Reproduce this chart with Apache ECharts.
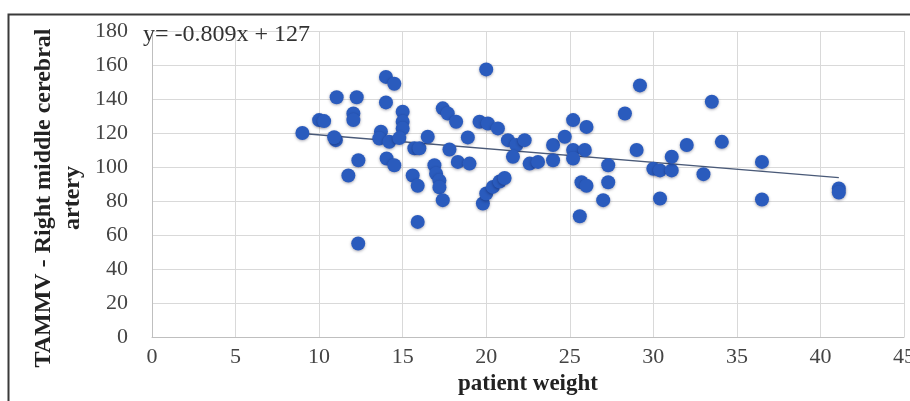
<!DOCTYPE html>
<html>
<head>
<meta charset="utf-8">
<script src="https://cdn.jsdelivr.net/npm/echarts@6/dist/echarts.min.js"></script>
<style>
html,body{margin:0;padding:0;background:#fff;}
#chart{width:910px;height:401px;}
</style>
</head>
<body>
<div id="chart"></div>
<script>
// patient weight (x) and TAMMV right middle cerebral artery (y)
var weightX = [9, 10, 10.3, 11, 10.9, 11.05, 11.75, 12.05, 12.05, 12.25, 12.35, 12.34,
  13.7, 13.6, 14.2, 14.0, 14.5, 14.0, 14.04, 14.5, 15.0, 15.0, 15.0, 14.8,
  15.6, 15.7, 16.0, 15.9, 15.9, 16.5, 16.9, 17.0, 17.2, 17.2, 17.4, 17.4, 17.7,
  17.8, 18.2, 18.3, 19.0, 18.9, 19.6, 20.1, 20.7, 20.0, 19.8, 20.0, 20.4, 20.8, 21.1,
  21.3, 21.8, 22.3, 21.6, 22.6, 23.1, 24.0, 24.0, 24.7, 25.2, 26.0, 25.2, 25.9, 25.2,
  25.6, 25.7, 26.0, 27.3, 27.3, 27.0, 28.3, 29.2, 29.0, 30.0, 30.4, 31.1, 31.1, 30.4,
  32.0, 33.0, 33.5, 34.1, 36.5, 36.5, 41.1, 41.1];
var tammvY = [120, 127.6, 127, 115.8, 117.5, 141, 95, 131.5, 127.6, 141, 104, 55,
  120.7, 116.8, 114.8, 153, 149, 138, 105, 101, 132.5, 126.6, 122.6, 117,
  95, 111, 111, 89, 67.7, 117.8, 101, 96, 92, 88, 80.5, 134.5, 131.5,
  110.3, 126.6, 103, 102, 117.4, 126.6, 125.6, 122.7, 157.4, 78.5, 84.4, 88.3, 91.5, 93.5,
  115.8, 112.9, 115.8, 106, 102, 103, 104, 112.9, 117.8, 127.6, 123.6, 110, 110, 105,
  71, 91, 89, 101, 91, 80.5, 131.5, 148, 110, 99, 98, 98, 106, 81.5,
  112.9, 95.8, 138.4, 114.8, 103, 80.9, 87.4, 85];
// trend line end points as drawn
var trendX = [9, 41.1];
var trendY = [119.7, 93.7];
var xTicks = [0, 5, 10, 15, 20, 25, 30, 35, 40, 45];
var yTicks = [0, 20, 40, 60, 80, 100, 120, 140, 160, 180];
var equationText = 'y= -0.809x + 127';
var xTitle = 'patient weight';
var yTitleLine1 = 'TAMMV - Right middle cerebral';
var yTitleLine2 = 'artery';

var pts = weightX.map(function (x, i) { return [x, tammvY[i]]; });
var trend = trendX.map(function (x, i) { return [x, trendY[i]]; });
var serif = '"Liberation Serif", "DejaVu Serif", serif';

var chart = echarts.init(document.getElementById('chart'));
chart.setOption({
  backgroundColor: '#fff',
  animation: false,
  grid: { left: 152, right: 6, top: 31, bottom: 64, containLabel: false, outerBoundsMode: 'none' },
  xAxis: {
    type: 'value', min: xTicks[0], max: xTicks[xTicks.length - 1], interval: 5,
    name: xTitle, nameLocation: 'middle', nameGap: 36,
    nameTextStyle: { fontFamily: serif, fontWeight: 'bold', fontSize: 23, color: '#222' },
    axisLine: { show: true, lineStyle: { color: '#bfbfbf', width: 1 } },
    axisTick: { show: false },
    axisLabel: { fontFamily: serif, fontSize: 22, color: '#444', margin: 9, hideOverlap: false },
    splitLine: { show: true, lineStyle: { color: '#d9d9d9', width: 1 } }
  },
  yAxis: {
    type: 'value', min: yTicks[0], max: yTicks[yTicks.length - 1], interval: 20,
    axisLine: { show: true, lineStyle: { color: '#bfbfbf', width: 1 } },
    axisTick: { show: false },
    axisLabel: { fontFamily: serif, fontSize: 22, color: '#444', margin: 24 },
    splitLine: { show: true, lineStyle: { color: '#d9d9d9', width: 1 } }
  },
  series: [
    {
      type: 'line', data: trend, symbol: 'none', z: 3,
      lineStyle: { color: '#4a5a78', width: 1.3 }
    },
    {
      type: 'scatter', data: pts, symbolSize: 14, z: 4,
      itemStyle: { color: '#2a5bbd', opacity: 1, shadowBlur: 3, shadowColor: 'rgba(0,0,40,0.35)', shadowOffsetY: 1 }
    }
  ],
  graphic: [
    {
      type: 'rect', left: 6, top: 12, z: 10, silent: true,
      shape: { width: 1000, height: 500 },
      style: { fill: 'none', stroke: '#3a3a3a', lineWidth: 2 }
    },
    {
      type: 'text', left: 143, top: 23, z: 10,
      style: { text: equationText, font: '24px ' + serif, fill: '#333' }
    },
    {
      type: 'text', x: 44, y: 198, rotation: Math.PI / 2, z: 10,
      style: { text: yTitleLine1, font: 'bold 24px ' + serif, fill: '#222', align: 'center', verticalAlign: 'middle' }
    },
    {
      type: 'text', x: 73, y: 198, rotation: Math.PI / 2, z: 10,
      style: { text: yTitleLine2, font: 'bold 24px ' + serif, fill: '#222', align: 'center', verticalAlign: 'middle' }
    }
  ]
});
</script>
</body>
</html>
